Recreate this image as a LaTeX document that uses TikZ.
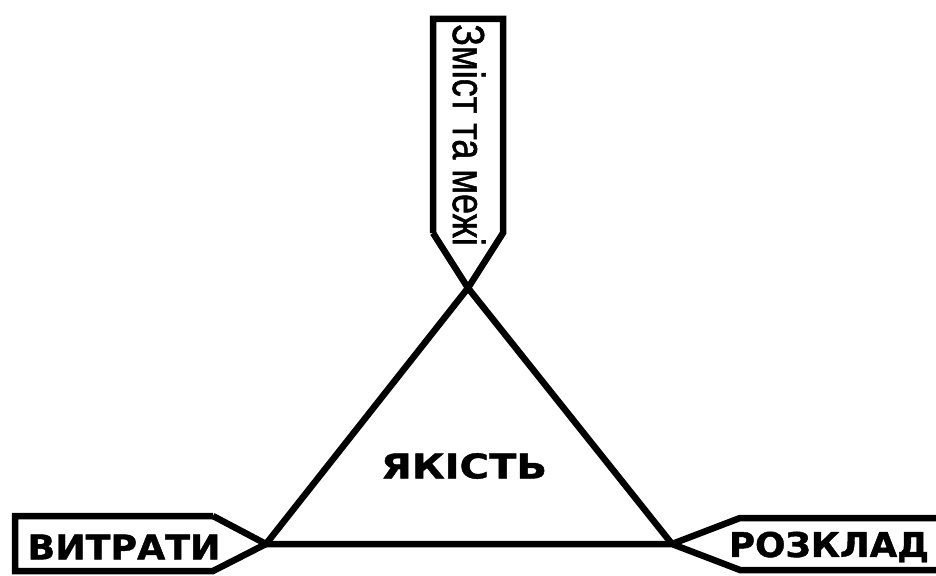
\documentclass[tikz,border=0pt]{standalone}
\usepackage{fontspec}
\setmainfont{DejaVu Sans}
\newfontfamily\labfont[BoldFeatures={FakeBold=1.2}]{DejaVu Sans}
\newfontfamily\narrowfont[FakeBold=1.2]{Liberation Sans}
\begin{document}
\begin{tikzpicture}[x=1pt,y=-1pt,
  frame/.style={draw=black,line width=6.5pt,line join=miter,miter limit=10},
  boldlab/.style={font=\labfont\bfseries\fontsize{34}{34}\selectfont,inner sep=0pt}]
\useasboundingbox (0,0) rectangle (936,575);
\coordinate (apex) at (468,288);
\coordinate (lv) at (266,544);
\coordinate (rv) at (672,544);
% top box
\draw[frame] (433,233) -- (433,19) -- (503,19) -- (503,233) -- (apex) -- (lv);
\draw[frame] (433,233) -- (apex) -- (rv);
% left box
\draw[frame] (213,516) -- (15,516) -- (15,571) -- (213,571) -- (lv);
\draw[frame] (213,516) -- (lv) -- (rv) -- (740,570) -- (945,570);
% right box
\draw[frame] (945,518) -- (740,518) -- (rv);
% labels
\node[boldlab] (cost) at (124,547) {\scalebox{1.07}[1]{ВИТРАТИ}};
\node[boldlab] (sched) at (829,547) {\scalebox{1.05}[1]{РОЗКЛАД}};
\node[boldlab] (qual) at (464,466) {\scalebox{1.18}[1]{ЯКІСТЬ}};
\node[inner sep=0pt,rotate=-90] (scope) at (469,135)
  {\scalebox{0.8}[1]{\narrowfont\fontsize{45}{45}\selectfont Зміст та межі}};
\end{tikzpicture}
\end{document}
